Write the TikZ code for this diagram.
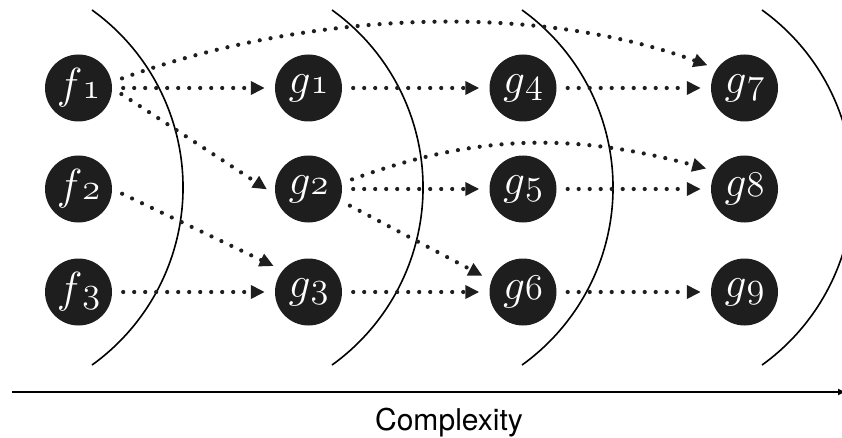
\documentclass[tikz,border=0pt]{standalone}
\usepackage{graphicx}
\usepackage{fontspec}
\newfontfamily\cplxfont{TeX Gyre Heros}
\usetikzlibrary{arrows.meta}
\definecolor{nodefill}{HTML}{1E1E1E}
\newcommand\osd[1]{\mathchar"013#1\relax}
\newcommand\nodelab[2]{\scalebox{1.75}{$#1{\scriptstyle\osd{#2}}$}}
\begin{document}
\begin{tikzpicture}[x=1pt,y=1pt,
  fn/.style={circle,fill=nodefill,text=white,minimum size=67pt,inner sep=0pt,
             font=\Huge},
  dotarrow/.style={draw=nodefill,line width=4.2pt,dash pattern=on 0pt off 11pt,line cap=round,
                   -{Triangle[length=14pt,width=13pt]},shorten <=11pt,shorten >=10pt},
  arcline/.style={line width=1.6pt},
]
\useasboundingbox (0,0) rectangle (842,437);
\clip (0,0) rectangle (842,437);

% separating arcs
\foreach \xz in {92,332,522,762}{
  \draw[arcline] (\xz,427) arc[start angle=54.3,end angle=-54.3,radius=218.6];
}

% nodes
\node[fn] (f1) at (78.5,349) {\nodelab{f}{1}};
\node[fn] (f2) at (78.5,248) {\nodelab{f}{2}};
\node[fn] (f3) at (78.5,145) {\nodelab{f}{3}};
\node[fn] (g1) at (308.5,349) {\nodelab{g}{1}};
\node[fn] (g2) at (308.5,248) {\nodelab{g}{2}};
\node[fn] (g3) at (308.5,145) {\nodelab{g}{3}};
\node[fn] (g4) at (523,349) {\nodelab{g}{4}};
\node[fn] (g5) at (523,248) {\nodelab{g}{5}};
\node[fn] (g6) at (523,145) {\nodelab{g}{6}};
\node[fn] (g7) at (744.5,349) {\nodelab{g}{7}};
\node[fn] (g8) at (744.5,248) {\nodelab{g}{8}};
\node[fn] (g9) at (744.5,145) {\nodelab{g}{9}};

% connectors
\draw[dotarrow] (f1.east) -- (g1.west);
\draw[dotarrow] (f1.east) -- (g2.190);
\draw[dotarrow] (f1.10) to[out=20,in=160,looseness=0.85] (g7.145);
\draw[dotarrow] (f2.east) -- (g3.140);
\draw[dotarrow] (f3.east) -- (g3.west);
\draw[dotarrow] (g1.east) -- (g4.west);
\draw[dotarrow] (g2.east) -- (g5.west);
\draw[dotarrow] (g2.-20) -- (g6.160);
\draw[dotarrow] (g2.10) to[out=20,in=165] (g8.148);
\draw[dotarrow] (g3.east) -- (g6.west);
\draw[dotarrow] (g4.east) -- (g7.west);
\draw[dotarrow] (g5.east) -- (g8.west);
\draw[dotarrow] (g6.east) -- (g9.west);

% axis
\coordinate (axL) at (12,45);
\coordinate (axR) at (846,45);
\draw[line width=1.8pt,-{Latex[length=8pt,width=7pt]}] (axL) -- (axR);
\node[anchor=base,font=\cplxfont\fontsize{30}{30}\selectfont] (cx) at (449,7) {Complexity};
\end{tikzpicture}
\end{document}
